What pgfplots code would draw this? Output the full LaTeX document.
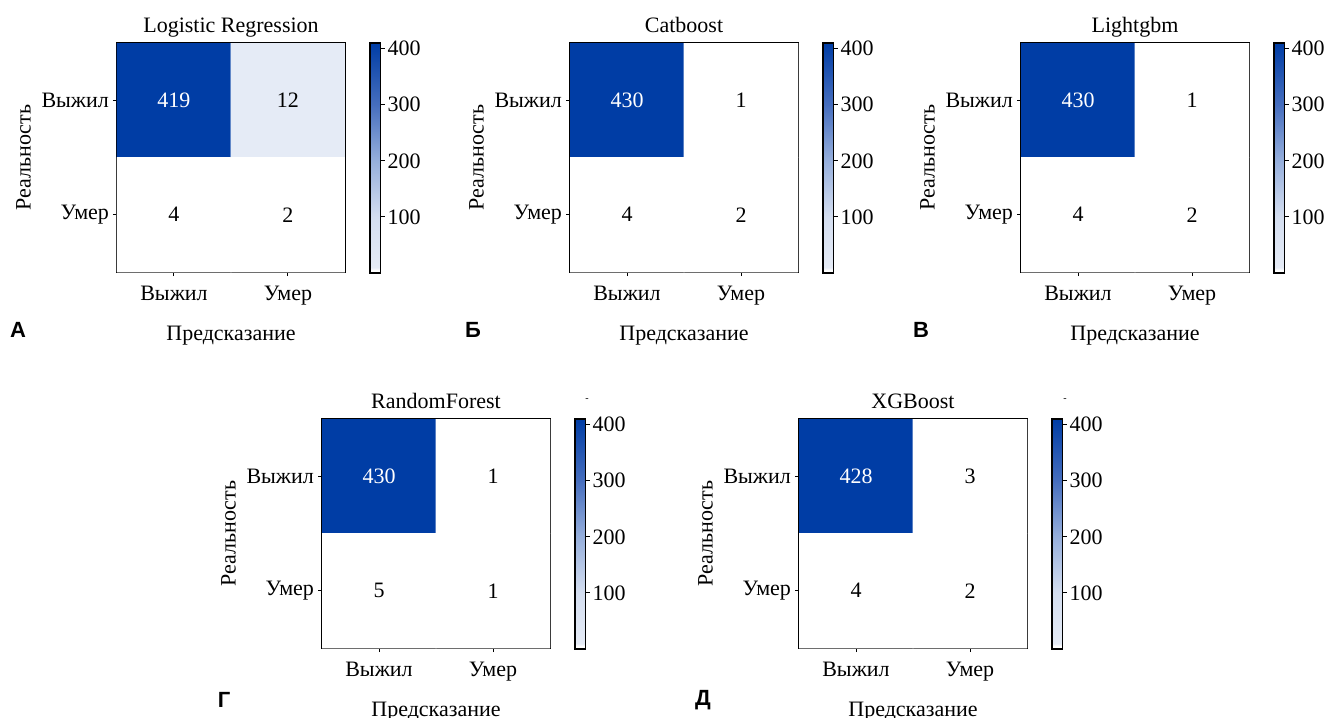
\documentclass[border=0pt]{standalone}
\usepackage{pgfplots}
\pgfplotsset{compat=1.18}
\usepackage{fontspec}
\setmainfont{Liberation Serif}
\newfontfamily\sansf{Liberation Sans}
\pgfkeys{/pgf/number format/assume math mode=true}
\pgfplotsset{
  colormap={cmblue}{rgb255(0pt)=(255,255,255) rgb255(5pt)=(255,255,255) rgb255(10pt)=(229,235,246) rgb255(100pt)=(212,222,240) rgb255(200pt)=(150,175,220) rgb255(300pt)=(70,110,190) rgb255(410pt)=(0,61,165)},
  cmstyle/.style={
    scale only axis, width=114pt, height=114.5pt,
    xmin=-0.5, xmax=1.5, ymin=-0.5, ymax=1.5, y dir=reverse,
    enlargelimits=false,
    xtick={0,1}, ytick={0,1},
    xticklabels={Выжил,Умер}, yticklabels={Выжил,Умер},
    tick align=outside, xtick pos=bottom, ytick pos=left,
    major tick length=2pt,
    tick style={black, line width=0.5pt},
    axis line style={line width=0.6pt},
    xticklabel style={yshift=-1.5pt},
    yticklabel style={xshift=1.5pt},
    xlabel=Предсказание, ylabel=Реальность,
    xlabel style={at={(axis description cs:0.5,-0.28)}, anchor=center},
    ylabel style={at={(axis description cs:-0.41,0.5)}, anchor=center},
    title style={at={(axis description cs:0.5,1)}, anchor=base, yshift=-0.5pt},
    colormap name=cmblue, point meta min=0, point meta max=410,
    colorbar,
    colorbar style={at={(parent axis.north east)}, anchor=north west, xshift=4pt,
      scale only axis, width=5.25pt, height=115pt,
      ytick={100,200,300,400}, ytick pos=right, yticklabel pos=right,
      tick align=outside, major tick length=2pt,
      axis line style={line width=0.6pt},
      yticklabel style={xshift=-2pt}},
  },
  celltext/.style={only marks, mark=none, nodes near coords, point meta=explicit symbolic,
    every node near coord/.append style={anchor=center, text=#1}},
}
\begin{document}
\begin{tikzpicture}[font=\fontsize{11}{13}\selectfont]
\useasboundingbox (0,0) rectangle (662pt,-359pt);
% A
\begin{axis}[cmstyle, at={(58.5pt,-21.5pt)}, anchor=north west, title={Logistic Regression}]
\addplot[matrix plot*, mesh/cols=2, point meta=explicit] table[meta=c] {
x y c
0 0 419
1 0 12
0 1 4
1 1 2
};
\addplot[celltext=white] table[meta=l] {
x y l
0 0 419
};
\addplot[celltext=black] table[meta=l] {
x y l
1 0 12
0 1 4
1 1 2
};
\end{axis}
% B
\begin{axis}[cmstyle, at={(285pt,-21.5pt)}, anchor=north west, title={Catboost}]
\addplot[matrix plot*, mesh/cols=2, point meta=explicit] table[meta=c] {
x y c
0 0 430
1 0 1
0 1 4
1 1 2
};
\addplot[celltext=white] table[meta=l] {
x y l
0 0 430
};
\addplot[celltext=black] table[meta=l] {
x y l
1 0 1
0 1 4
1 1 2
};
\end{axis}
% C
\begin{axis}[cmstyle, at={(510.5pt,-21.5pt)}, anchor=north west, title={Lightgbm}]
\addplot[matrix plot*, mesh/cols=2, point meta=explicit] table[meta=c] {
x y c
0 0 430
1 0 1
0 1 4
1 1 2
};
\addplot[celltext=white] table[meta=l] {
x y l
0 0 430
};
\addplot[celltext=black] table[meta=l] {
x y l
1 0 1
0 1 4
1 1 2
};
\end{axis}
% D
\begin{axis}[cmstyle, at={(161pt,-209.5pt)}, anchor=north west, title={RandomForest}]
\addplot[matrix plot*, mesh/cols=2, point meta=explicit] table[meta=c] {
x y c
0 0 430
1 0 1
0 1 5
1 1 1
};
\addplot[celltext=white] table[meta=l] {
x y l
0 0 430
};
\addplot[celltext=black] table[meta=l] {
x y l
1 0 1
0 1 5
1 1 1
};
\end{axis}
% E
\begin{axis}[cmstyle, at={(399.5pt,-209.5pt)}, anchor=north west, title={XGBoost}]
\addplot[matrix plot*, mesh/cols=2, point meta=explicit] table[meta=c] {
x y c
0 0 428
1 0 3
0 1 4
1 1 2
};
\addplot[celltext=white] table[meta=l] {
x y l
0 0 428
};
\addplot[celltext=black] table[meta=l] {
x y l
1 0 3
0 1 4
1 1 2
};
\end{axis}
% panel letters
\node[font=\sansf\bfseries\fontsize{11}{12}\selectfont] at (9pt,-165pt) {А};
\node[font=\sansf\bfseries\fontsize{11}{12}\selectfont] at (236.5pt,-165pt) {Б};
\node[font=\sansf\bfseries\fontsize{11}{12}\selectfont] at (460.5pt,-165pt) {В};
\node[font=\sansf\bfseries\fontsize{11}{12}\selectfont] at (112pt,-350pt) {Г};
\node[font=\sansf\bfseries\fontsize{11}{12}\selectfont] at (351.5pt,-350pt) {Д};
\node[font=\fontsize{5}{6}\selectfont] at (293.5pt,-200pt) {-};
\node[font=\fontsize{5}{6}\selectfont] at (532.5pt,-200pt) {-};
\end{tikzpicture}
\end{document}
